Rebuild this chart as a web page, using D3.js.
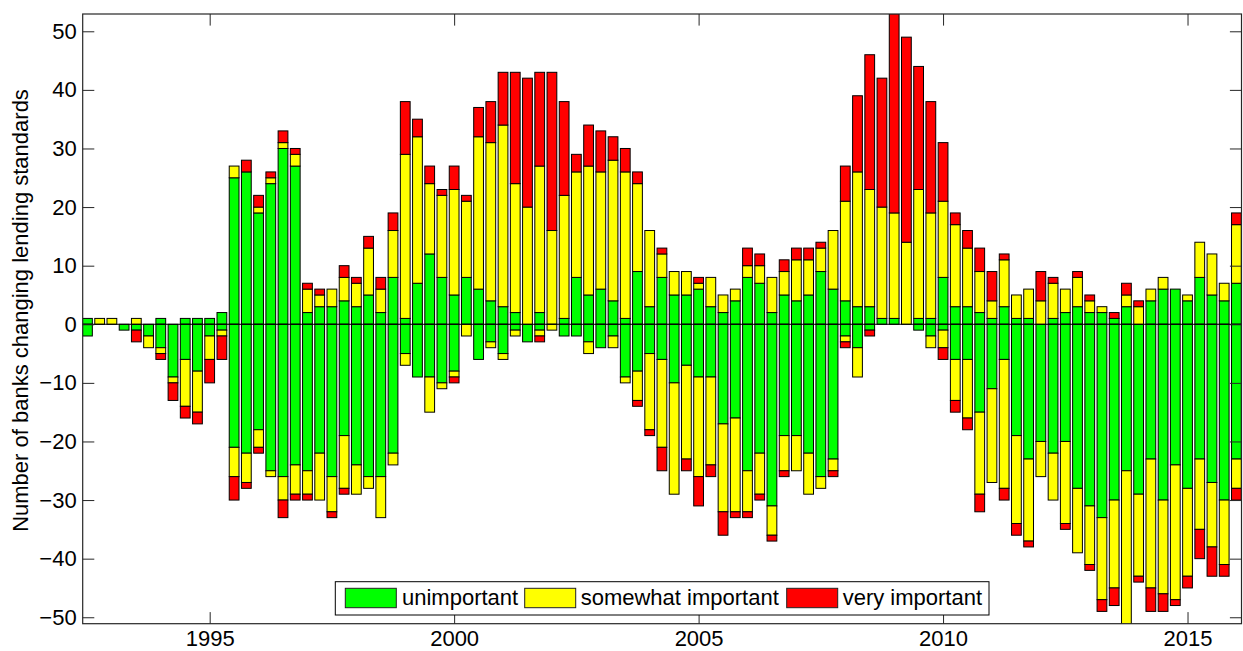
<!DOCTYPE html>
<html>
<head>
<meta charset="utf-8">
<script src="https://cdn.jsdelivr.net/npm/d3@7"></script>
<style>
  body { margin: 0; background: #fff; }
  svg { display: block; font-family: "Liberation Sans", Arial, Helvetica, sans-serif; }
</style>
</head>
<body>
<div id="chart"></div>
<script>
// quarterly survey dates, 1992.5 .. 2016.0
const quarters = d3.range(1992.5, 2016.01, 0.25);

// banks tightening (above zero)
const posGreen  = [1,0,0,0,0,0,1,0,1,1,1,2,25,26,19,24,30,27,2,3,3,4,3,5,2,8,1,7,12,8,5,8,6,4,3,2,0,2,0,1,8,5,6,4,1,9,3,8,5,5,6,3,2,4,8,7,2,5,4,5,9,6,4,3,3,1,1,0,1,1,8,3,3,2,1,3,1,1,0,1,2,3,2,2,1,3,0,4,6,6,4,8,5,4,7];
const posYellow = [0,1,1,0,1,0,0,0,0,0,0,0,2,0,1,1,1,2,4,2,3,4,4,8,4,8,28,25,12,14,18,13,26,27,31,22,20,25,16,21,18,22,20,24,25,15,13,4,4,4,1,5,3,2,2,3,6,4,7,6,4,10,17,23,20,19,18,14,22,18,13,14,10,7,3,8,4,5,4,6,4,5,2,1,0,2,3,2,2,0,1,6,7,3,10];
const posRed    = [0,0,0,0,0,0,0,0,0,0,0,0,0,2,2,1,2,1,1,1,0,2,1,2,2,3,9,3,3,1,4,1,5,7,9,19,22,16,27,16,3,7,7,4,4,2,0,1,0,0,1,0,0,0,3,2,0,2,2,2,1,0,6,13,23,22,34,35,21,19,10,2,3,4,5,1,0,0,5,1,0,1,1,0,1,2,1,0,0,0,0,0,0,0,2];

// banks easing (below zero), as counts
const negGreen  = [2,0,0,1,1,2,4,9,6,8,2,1,21,22,18,25,26,24,25,22,26,19,24,26,26,22,5,9,9,10,8,0,6,3,5,1,3,1,0,2,2,3,4,2,9,8,5,6,10,7,9,9,17,16,25,22,31,19,19,22,26,23,2,4,1,0,0,0,1,2,1,6,6,15,11,6,19,23,20,22,20,28,31,33,30,25,29,23,30,24,28,23,27,30,23];
const negYellow = [0,0,0,0,0,2,1,1,8,7,4,1,5,5,3,1,4,5,4,8,6,9,5,2,7,2,2,0,6,1,1,2,0,1,1,1,0,1,1,0,0,2,0,2,1,5,13,15,19,16,17,15,15,16,7,7,5,6,6,7,2,2,1,5,0,0,0,0,0,2,3,7,10,14,16,22,15,14,6,8,14,11,10,14,15,27,14,22,16,23,15,12,11,11,5];
const negRed    = [0,0,0,0,2,0,1,3,2,2,4,4,4,1,1,0,3,1,1,0,1,1,0,0,0,0,0,0,0,0,1,0,0,0,0,0,0,1,0,0,0,0,0,0,0,1,1,4,0,2,5,2,4,1,1,1,1,1,0,0,0,1,1,0,1,0,0,0,0,0,2,2,2,3,0,2,2,1,0,0,1,0,1,2,3,0,1,4,3,1,2,5,5,2,2];

const yearTicks = [1995, 2000, 2005, 2010, 2015];
const valueTicks = [-50, -40, -30, -20, -10, 0, 10, 20, 30, 40, 50];
const legendLabels = ["unimportant", "somewhat important", "very important"];

const colors = { g: "#00ff00", y: "#ffff00", r: "#ff0000" };

const W = 1243, H = 651;
const margin = { top: 14, right: 1.5, bottom: 27.3, left: 82.7 };
const width = W - margin.left - margin.right;
const height = H - margin.top - margin.bottom;

const svg = d3.select("#chart").append("svg")
    .attr("width", W)
    .attr("height", H);

const g = svg.append("g")
    .attr("transform", `translate(${margin.left},${margin.top})`);

const x = d3.scaleLinear().domain([1992.403, 2016.104]).range([0, width]);
const y = d3.scaleLinear().domain([-51.1, 52.95]).range([height, 0]);

// one row per quarter, negatives stored as negative numbers for the diverging stack
const rows = quarters.map((q, i) => ({
    q: q,
    pg: posGreen[i], ng: -negGreen[i],
    py: posYellow[i], ny: -negYellow[i],
    pr: posRed[i], nr: -negRed[i]
}));

const keys = ["pg", "ng", "py", "ny", "pr", "nr"];
const keyColor = { pg: colors.g, ng: colors.g, py: colors.y, ny: colors.y, pr: colors.r, nr: colors.r };

const series = d3.stack().keys(keys).offset(d3.stackOffsetDiverging)(rows);

g.append("clipPath").attr("id", "plotclip")
  .append("rect").attr("width", width).attr("height", height);

const barW = x(0.2) - x(0);

const bars = g.append("g").attr("clip-path", "url(#plotclip)");

bars.selectAll("g.series")
  .data(series)
  .join("g")
    .attr("class", "series")
    .attr("fill", d => keyColor[d.key])
  .selectAll("rect")
  .data(d => d.filter(s => s[1] !== s[0]))
  .join("rect")
    .attr("x", d => x(d.data.q) - barW / 2)
    .attr("y", d => y(Math.max(d[0], d[1])))
    .attr("width", barW)
    .attr("height", d => Math.abs(y(d[0]) - y(d[1])))
    .attr("stroke", "#000")
    .attr("stroke-width", 1);

// zero baseline
g.append("line")
    .attr("x1", 0).attr("x2", width)
    .attr("y1", y(0)).attr("y2", y(0))
    .attr("stroke", "#000")
    .attr("stroke-width", 1);

const tickLen = 11.6;
const fontSize = 22;

const styleAxis = sel => {
    sel.attr("font-family", null).attr("font-size", null);
    sel.select(".domain").remove();
    sel.selectAll(".tick line").attr("stroke", "#262626");
    sel.selectAll(".tick text").attr("fill", "#000").style("font-size", fontSize + "px");
};

g.append("g")
    .call(d3.axisLeft(y).tickValues(valueTicks).tickSize(-tickLen).tickPadding(6)
        .tickFormat(d => d < 0 ? "\u2212" + Math.abs(d) : d))
    .call(styleAxis);

g.append("g")
    .attr("transform", `translate(${width},0)`)
    .call(d3.axisRight(y).tickValues(valueTicks).tickSize(-tickLen).tickFormat(""))
    .call(styleAxis);

g.append("g")
    .attr("transform", `translate(0,${height})`)
    .call(d3.axisBottom(x).tickValues(yearTicks).tickSize(-tickLen).tickPadding(6.5)
        .tickFormat(d3.format("d")))
    .call(styleAxis);

g.append("g")
    .call(d3.axisTop(x).tickValues(yearTicks).tickSize(-tickLen).tickFormat(""))
    .call(styleAxis);

// frame
g.append("rect")
    .attr("width", width).attr("height", height)
    .attr("fill", "none")
    .attr("stroke", "#262626")
    .attr("stroke-width", 1.2);

// y label
svg.append("text")
    .attr("transform", `translate(28,${310.5}) rotate(-90)`)
    .attr("text-anchor", "middle")
    .style("font-size", fontSize + "px")
    .text("Number of banks changing lending standards");

// legend
const legend = svg.append("g");
legend.append("rect")
    .attr("x", 335.3).attr("y", 581.7)
    .attr("width", 989 - 335.3).attr("height", 615 - 581.7)
    .attr("fill", "#fff")
    .attr("stroke", "#000")
    .attr("stroke-width", 1);

const legendItems = [
    { label: legendLabels[0], color: colors.g, sx: 345.3, tx: 402 },
    { label: legendLabels[1], color: colors.y, sx: 524.7, tx: 580.7 },
    { label: legendLabels[2], color: colors.r, sx: 786.7, tx: 842.7 }
];

legend.selectAll("rect.sw")
  .data(legendItems)
  .join("rect")
    .attr("class", "sw")
    .attr("x", d => d.sx).attr("y", 588.3)
    .attr("width", 51).attr("height", 19.4)
    .attr("fill", d => d.color)
    .attr("stroke", "#222")
    .attr("stroke-width", 1);

legend.selectAll("text")
  .data(legendItems)
  .join("text")
    .attr("x", d => d.tx).attr("y", 604.5)
    .style("font-size", fontSize + "px")
    .text(d => d.label);
</script>
</body>
</html>
